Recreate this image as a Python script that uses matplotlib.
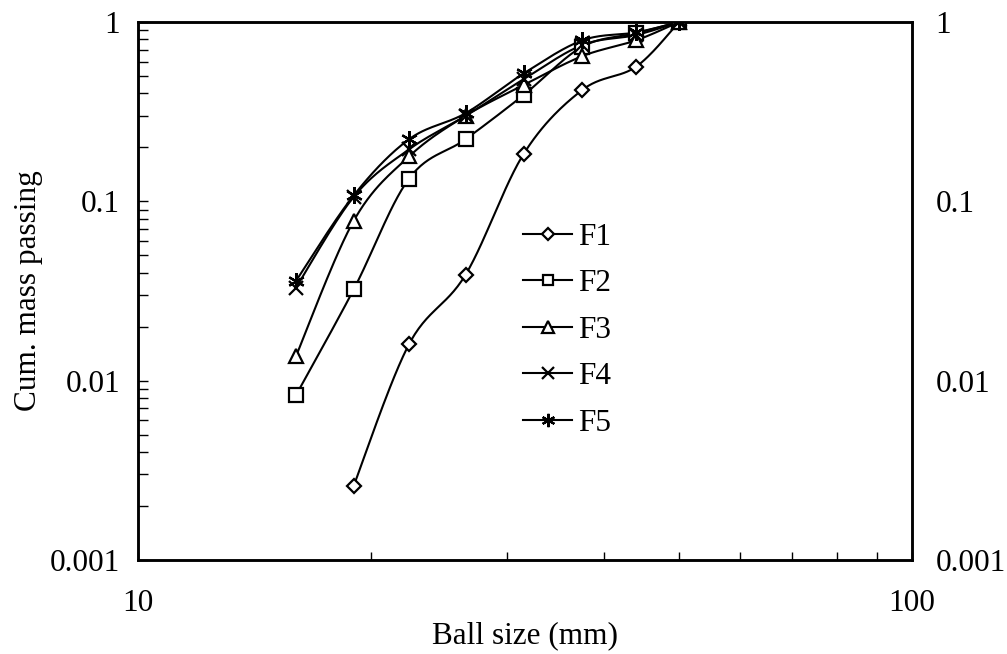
"""
Cumulative mass passing vs ball size for the five feeds
"""

import numpy as np
import matplotlib
matplotlib.use('Agg')
import matplotlib.pyplot as plt
from matplotlib.ticker import LogLocator, NullFormatter, FuncFormatter

plt.rcParams['font.family'] = ['Liberation Serif', 'DejaVu Serif']

# ball sizes (mm)
sizes = [16, 19, 22.4, 26.5, 31.5, 37.5, 44, 50]
sizes_f1 = sizes[1:]

f1 = [0.0026, 0.016, 0.039, 0.184, 0.418, 0.563, 1.0]
f2 = [0.0083, 0.0323, 0.134, 0.222, 0.392, 0.728, 0.865, 1.0]
f3 = [0.0137, 0.078, 0.178, 0.30, 0.445, 0.645, 0.79, 1.0]
f4 = [0.033, 0.106, 0.195, 0.30, 0.48, 0.744, 0.846, 1.0]
f5 = [0.036, 0.108, 0.222, 0.31, 0.517, 0.79, 0.875, 1.0]

labels = ['F1', 'F2', 'F3', 'F4', 'F5']
y_ticks = [0.001, 0.01, 0.1, 1]
x_ticks = [10, 100]

FS = 22.5


def smooth(xs, ys, n=30):
    """Excel-like smoothed line (Catmull-Rom in log-log space)"""
    px = np.log10(xs)
    py = np.log10(ys)
    pts = np.column_stack([px, py])
    pts = np.vstack([pts[0], pts, pts[-1]])
    out = []
    for i in range(1, len(pts) - 2):
        p0, p1, p2, p3 = pts[i - 1], pts[i], pts[i + 1], pts[i + 2]
        c1 = p1 + (p2 - p0) / 6
        c2 = p2 - (p3 - p1) / 6
        t = np.linspace(0, 1, n)[:, None]
        seg = ((1 - t) ** 3 * p1 + 3 * (1 - t) ** 2 * t * c1
               + 3 * (1 - t) * t ** 2 * c2 + t ** 3 * p2)
        out.append(seg if i == 1 else seg[1:])
    out = np.vstack(out)
    return 10 ** out[:, 0], 10 ** out[:, 1]


fig = plt.figure(figsize=(10.07, 6.54), dpi=100)
ax = fig.add_axes([138 / 1007, 1 - 560 / 654, 774 / 1007, 538 / 654])

series = [(sizes_f1, f1, 'D', 7.5), (sizes, f2, 's', 9.5),
          (sizes, f3, '^', 10), (sizes, f4, 'x', 10),
          (sizes, f5, (6, 2, 0), 12)]

for (xs, ys, mk, ms), lab in zip(series, labels):
    sx, sy = smooth(xs, ys)
    ax.plot(sx, sy, color='black', lw=1.5, zorder=2)
    ax.plot(xs, ys, ls='none', marker=mk, ms=ms, mfc='white', mec='black',
            mew=1.6, zorder=3)
    # proxy for legend
    ax.plot([], [], color='black', lw=1.5, marker=mk, ms=ms * 0.8,
            mfc='white', mec='black', mew=1.6, label=lab)

ax.set_xscale('log')
ax.set_yscale('log')
ax.set_xlim(10, 100)
ax.set_ylim(0.001, 1)

fmt = FuncFormatter(lambda v, p: f'{v:g}')
ax.set_xticks(x_ticks)
ax.xaxis.set_major_formatter(fmt)
ax.xaxis.set_minor_locator(LogLocator(base=10, subs=np.arange(2, 10)))
ax.xaxis.set_minor_formatter(NullFormatter())
ax.set_yticks(y_ticks)
ax.yaxis.set_major_formatter(fmt)
ax.yaxis.set_minor_locator(LogLocator(base=10, subs=np.arange(2, 10)))
ax.yaxis.set_minor_formatter(NullFormatter())

ax.tick_params(axis='x', which='both', direction='in', top=False,
               length=6, width=1, labelsize=FS, pad=21)
ax.tick_params(axis='y', which='both', direction='in', left=True, right=True,
               length=7, width=1, labelsize=FS, pad=13)

# right side labels
ax2 = ax.twinx()
ax2.set_yscale('log')
ax2.set_ylim(ax.get_ylim())
ax2.set_yticks(y_ticks)
ax2.yaxis.set_major_formatter(fmt)
ax2.yaxis.set_minor_formatter(NullFormatter())
ax2.tick_params(axis='y', which='both', length=0, labelsize=FS, pad=17)

for a in (ax, ax2):
    for s in a.spines.values():
        s.set_linewidth(1.8)

ax.set_xlabel('Ball size (mm)', fontsize=FS, labelpad=2)
ax.set_ylabel('Cum. mass passing', fontsize=FS, labelpad=5)

ax.legend(loc='upper left', bbox_to_anchor=(0.498, 0.627), frameon=False,
          fontsize=FS, handlelength=1.55, handletextpad=0.2,
          labelspacing=0.56, borderpad=0, borderaxespad=0)

plt.savefig('out.png', dpi=100)
plt.close()
